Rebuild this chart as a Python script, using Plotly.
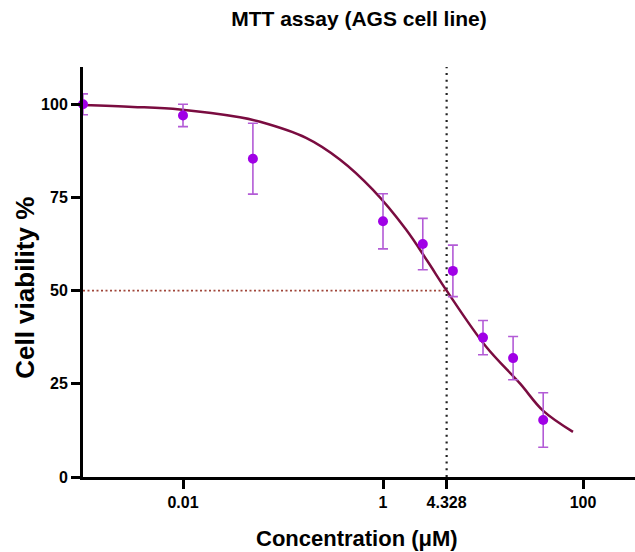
import plotly.graph_objects as go

# Measured data (mean ± SD)
conc = [0.001, 0.01, 0.05, 1, 2.5, 5, 10, 20, 40]
viability = [100.0, 97.0, 85.4, 68.6, 62.5, 55.3, 37.4, 31.9, 15.3]
sd = [2.8, 3.0, 9.5, 7.4, 6.9, 6.9, 4.6, 5.8, 7.3]

# Fitted curve
fit_conc = [0.001, 0.00316, 0.0093, 0.037, 0.059, 0.17, 0.37, 0.79, 1.7, 2.8,
            4.328, 10.7, 23.4, 39.8, 79.4]
fit_viab = [99.8, 99.3, 98.6, 96.5, 95.3, 91.0, 85.2, 77.1, 66.4, 57.8,
            50.0, 35.0, 25.1, 17.8, 12.1]

ic50 = 4.328
half = 50
x_ticks = [0.01, 1, 4.328, 100]
x_ticktext = ["0.01", "1", "4.328", "100"]
y_ticks = [0, 25, 50, 75, 100]

FONT = "Liberation Sans, Arial, Helvetica, sans-serif"

fig = go.Figure()

# IC50 guide lines
fig.add_trace(go.Scatter(
    x=[conc[0], ic50], y=[half, half], mode="lines",
    line=dict(color="#A0463A", width=1.6, dash="2px,2.5px"),
    hoverinfo="skip", showlegend=False, cliponaxis=False))
fig.add_trace(go.Scatter(
    x=[ic50, ic50], y=[0, 110], mode="lines",
    line=dict(color="#222222", width=2.2, dash="2px,4.7px"),
    hoverinfo="skip", showlegend=False, cliponaxis=False))

# fitted curve
fig.add_trace(go.Scatter(
    x=fit_conc, y=fit_viab, mode="lines",
    line=dict(color="#7A0C40", width=2.5, shape="spline", smoothing=1.0),
    showlegend=False, cliponaxis=False))

# data points with error bars
fig.add_trace(go.Scatter(
    x=conc, y=viability, mode="markers",
    marker=dict(color="#A000E6", size=10),
    error_y=dict(type="data", array=sd, visible=True,
                 color="#B35BD6", thickness=1.6, width=5),
    showlegend=False, cliponaxis=False))

fig.update_layout(
    width=635, height=552,
    margin=dict(l=83, r=0, t=67, b=75),
    paper_bgcolor="white", plot_bgcolor="white",
    font=dict(family=FONT, color="black"),
    title=dict(text="MTT assay (AGS cell line)", x=0.5, xref="paper",
               y=1 - 19 / 552, yref="container", xanchor="center", yanchor="middle",
               font=dict(size=21, weight="bold", family=FONT, color="black")),
    xaxis=dict(type="log", range=[-3, 2.52], showgrid=False, zeroline=False,
               showline=True, linewidth=3, linecolor="black",
               ticks="outside", ticklen=9, tickwidth=3, tickcolor="black",
               tickvals=x_ticks, ticktext=x_ticktext,
               tickfont=dict(size=16, weight="bold", family=FONT, color="black")),
    yaxis=dict(range=[0, 110], showgrid=False, zeroline=False,
               showline=True, linewidth=3, linecolor="black",
               ticks="outside", ticklen=9, tickwidth=3, tickcolor="black",
               tickvals=y_ticks,
               tickfont=dict(size=16, weight="bold", family=FONT, color="black")),
    annotations=[
        dict(text="Concentration (\u03bcM)", xref="paper", yref="paper",
             x=0.497, y=-61.5 / 410, xanchor="center", yanchor="middle",
             showarrow=False,
             font=dict(size=22, weight="bold", family=FONT, color="black")),
        dict(text="Cell viability %", xref="paper", yref="paper",
             x=(25 - 83) / 552, y=(476.7 - 287.5) / 410, xanchor="center", yanchor="middle",
             textangle=-90, showarrow=False,
             font=dict(size=26, weight="bold", family=FONT, color="black")),
    ],
)

fig.write_html("out.html",
               config={"displayModeBar": False},
               post_script="document.body.style.margin='0';document.body.style.overflow='hidden';")
